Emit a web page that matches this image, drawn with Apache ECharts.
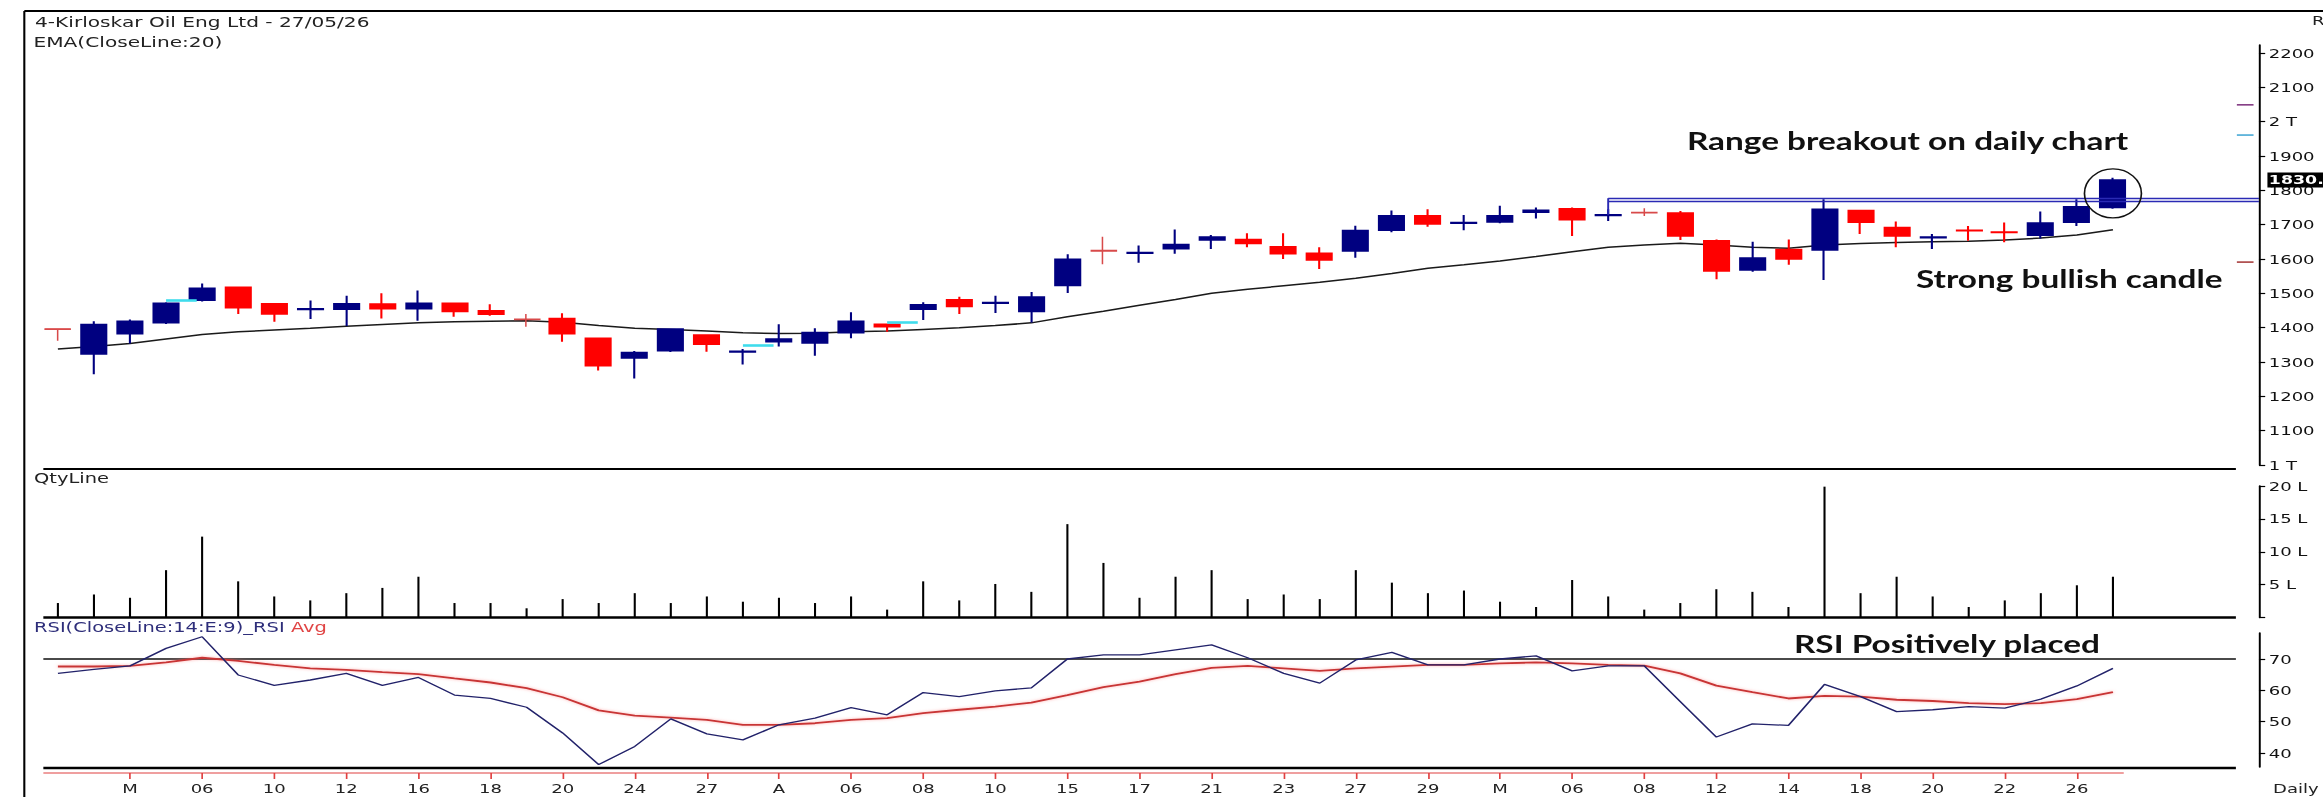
<!DOCTYPE html>
<html>
<head>
<meta charset="utf-8">
<script src="https://cdn.jsdelivr.net/npm/echarts@6/dist/echarts.min.js"></script>
<style>
html,body{margin:0;padding:0;background:#fff;overflow:hidden}
#wrap{width:2323px;height:797px;overflow:hidden;position:relative;background:#fff}
#chart{width:1672px;height:797px;transform:scaleX(1.389354);transform-origin:0 0}
</style>
</head>
<body>
<div id="wrap"><div id="chart"></div></div>
<script>
// ---------- DATA ----------
const dateLabels = ['26','27','M','04','06','09','10','11','12','13','16','17','18','19','20','23','24','25','27','30',
  'A','02','06','07','08','09','10','13','15','16','17','20','21','22','23','24','27','28','29','30',
  'M','05','06','07','08','11','12','13','14','15','18','19','20','21','22','25','26','27'];

const openP  = [1397,1323,1382,1414,1480,1518,1470,1453,1454,1469,1455,1471,1449,1425,1427,1369,1312,1333,1379,1329,
  1359,1355,1385,1410,1454,1481,1471,1447,1523,1625,1617,1630,1655,1657,1636,1617,1623,1684,1726,1704,
  1708,1736,1746,1727,1736,1734,1653,1568,1628,1626,1741,1692,1662,1684,1679,1669,1707,1750];
const highP  = [1397,1419,1424,1474,1529,1519,1471,1479,1493,1500,1508,1472,1468,1440,1442,1370,1332,1397,1380,1338,
  1410,1398,1445,1411,1474,1490,1493,1504,1614,1665,1639,1686,1670,1675,1675,1634,1697,1741,1745,1728,
  1755,1750,1750,1745,1748,1740,1657,1650,1657,1774,1742,1709,1673,1696,1706,1738,1774,1837];
const lowP   = [1362,1264,1354,1411,1476,1440,1417,1425,1405,1427,1420,1432,1435,1403,1359,1275,1252,1329,1330,1293,
  1345,1318,1369,1388,1422,1440,1443,1415,1501,1585,1589,1615,1629,1634,1600,1571,1604,1678,1694,1684,
  1704,1718,1667,1711,1725,1655,1541,1563,1583,1539,1673,1634,1629,1653,1649,1660,1696,1746];
const closeP = [1395,1409,1419,1471,1515,1458,1440,1455,1470,1455,1471,1447,1439,1423,1382,1289,1328,1396,1352,1331,
  1367,1386,1419,1403,1467,1462,1473,1489,1599,1623,1619,1642,1664,1645,1615,1597,1683,1726,1702,1706,
  1726,1742,1714,1729,1734,1667,1565,1603,1600,1745,1707,1667,1664,1682,1677,1705,1752,1830];

const ema20 = [1338,1345,1354,1367,1380,1388,1393,1398,1404,1409,1414,1417,1419,1420,1416,1406,1398,1395,1390,1385,
  1383,1384,1388,1390,1395,1400,1406,1414,1432,1448,1465,1482,1500,1512,1522,1532,1544,1558,1573,1583,
  1594,1607,1621,1634,1641,1646,1641,1634,1631,1641,1645,1648,1650,1652,1655,1661,1670,1685];

const volumeLakh = [2.2,3.5,3.0,7.2,12.3,5.5,3.2,2.6,3.7,4.5,6.2,2.2,2.2,1.4,2.8,2.2,3.7,2.2,3.2,2.4,
  3.0,2.2,3.2,1.2,5.5,2.6,5.1,3.9,14.2,8.3,3.0,6.2,7.2,2.8,3.5,2.8,7.2,5.3,3.7,4.1,
  2.4,1.6,5.7,3.2,1.2,2.2,4.3,3.9,1.6,19.9,3.7,6.2,3.2,1.6,2.6,3.7,4.9,6.2];

const rsi14 = [65.4,66.7,67.8,73.4,77.1,64.9,61.6,63.3,65.4,61.6,64.1,58.5,57.4,54.6,46.4,36.3,42.1,50.9,46.1,44.2,
  49.0,51.1,54.5,52.2,59.3,58.0,59.8,60.8,70.0,71.3,71.3,72.9,74.5,70.4,65.4,62.3,69.7,72.1,68.1,68.1,
  70.0,71.0,66.2,67.8,67.8,56.4,45.1,49.3,48.8,61.9,58.0,53.2,53.8,54.8,54.3,57.2,61.4,67.0];
const rsiAvg = [67.6,67.6,67.8,68.9,70.4,69.4,68.1,67.0,66.5,65.8,65.2,63.8,62.5,60.7,57.8,53.6,51.9,51.3,50.6,49.0,
  49.0,49.5,50.6,51.1,52.7,53.8,54.8,56.1,58.5,61.0,62.8,65.2,67.2,67.8,67.0,66.2,67.0,67.6,68.1,68.1,
  68.6,68.9,68.6,68.1,67.9,65.4,61.5,59.4,57.4,58.2,58.0,57.0,56.6,55.9,55.6,55.9,57.2,59.4];

const priceTicks = [1000,1100,1200,1300,1400,1500,1600,1700,1800,1900,2000,2100,2200];
const volTicks = [0,5,10,15,20];
const volLabelTicks = [5,10,15,20];
const rsiTicks = [40,50,60,70];
const rsiLevel = 70;
const xTickIdx = [2,4,6,8,10,12,14,16,18,20,22,24,26,28,30,32,34,36,38,40,42,44,46,48,50,52,54,56];

const breakoutStart = 43;
const breakoutLevels = [1777, 1767];
const breakoutTickLow = 1729;
const gapMarks = [[3, 1479], [19, 1348], [23, 1417]];
const lastPrice = 1830;
const circleCenterPrice = 1791;
const levelDashes = [[2049, '#7b2d7b'], [1961, '#3ba3d3'], [1591, '#a33333']];
const thinRedDoji = [0, 13, 29, 44];

// ---------- LAYOUT ----------
const FONT = 'DejaVu Sans';
const gridLeft = 28.7, gridWidth = 1597.2;
const xMin = -0.5, xMax = 61.05;

const chart = echarts.init(document.getElementById('chart'), null, {renderer: 'svg'});

function yAx(gridIndex, min, max, ticks, labelTicks, fmt) {
  return {
    type: 'value', gridIndex: gridIndex, position: 'right', min: min, max: max,
    axisLine: {show: true, onZero: false, lineStyle: {color: '#000', width: 1.4}},
    axisTick: {show: true, inside: false, length: 4.5, customValues: ticks, lineStyle: {color: '#000', width: 1.2}},
    axisLabel: {show: true, customValues: labelTicks, formatter: fmt, margin: 7, fontSize: 13, color: '#111', fontFamily: FONT},
    splitLine: {show: false}
  };
}
function xHidden(gridIndex) {
  return {type: 'value', gridIndex: gridIndex, min: xMin, max: xMax, show: false, splitLine: {show: false}};
}

const candleData = openP.map((o, i) => {
  const item = {value: [i, o, closeP[i], lowP[i], highP[i]]};
  if (thinRedDoji.indexOf(i) >= 0) item.itemStyle = {borderColor0: '#d84a4a', borderWidth: 1.1};
  return item;
});
const emaData = ema20.map((v, i) => [i, v]);
const volData = volumeLakh.map((v, i) => [i, v]);
const rsiData = rsi14.map((v, i) => [i, v]);
const rsiAvgData = rsiAvg.map((v, i) => [i, v]);

const markLines = [];
breakoutLevels.forEach(lv => {
  markLines.push([{coord: [breakoutStart, lv]}, {coord: [xMax, lv]}]);
});
markLines.push([{coord: [breakoutStart, breakoutLevels[0]]}, {coord: [breakoutStart, breakoutTickLow]}]);
gapMarks.forEach(g => {
  markLines.push([{coord: [g[0], g[1]], lineStyle: {color: '#3fdcec', width: 2.6}},
                  {coord: [g[0] + 0.85, g[1]]}]);
});

const option = {
  animation: false,
  backgroundColor: '#fff',
  grid: [
    {left: gridLeft, width: gridWidth, top: 45, height: 420},
    {left: gridLeft, width: gridWidth, top: 486, height: 131.5},
    {left: gridLeft, width: gridWidth, top: 633, height: 134}
  ],
  xAxis: [
    xHidden(0),
    xHidden(1),
    {
      type: 'value', gridIndex: 2, min: xMin, max: xMax, position: 'bottom', offset: 6,
      axisLine: {show: false},
      axisTick: {show: true, inside: false, length: 6, customValues: xTickIdx, lineStyle: {color: '#e04040', width: 1.2}},
      axisLabel: {show: true, customValues: xTickIdx, formatter: v => dateLabels[Math.round(v)] || '', margin: 9,
                  fontSize: 13, color: '#222', fontFamily: FONT},
      splitLine: {show: false}
    }
  ],
  yAxis: [
    yAx(0, 1000, 2223.3, priceTicks, priceTicks, v => v === 2000 ? '2 T' : (v === 1000 ? '1 T' : String(v))),
    yAx(1, 0, 20, volTicks, volLabelTicks, v => v === 0 ? '' : v + ' L'),
    yAx(2, 35.53, 78.3, rsiTicks, rsiTicks, v => String(v))
  ],
  series: [
    {
      type: 'candlestick', xAxisIndex: 0, yAxisIndex: 0, data: candleData, barWidth: 18.5,
      itemStyle: {color: '#000080', color0: '#ff0000', borderColor: '#000080', borderColor0: '#ff0000', borderWidth: 1.5},
      markLine: {silent: true, symbol: ['none', 'none'], label: {show: false}, animation: false,
                 lineStyle: {color: '#2a2ab4', width: 1.4, type: 'solid'}, data: markLines},
      z: 3
    },
    {
      type: 'line', xAxisIndex: 0, yAxisIndex: 0, data: emaData, symbol: 'none',
      lineStyle: {color: '#1a1a1a', width: 1.5}, z: 2
    },
    {
      type: 'bar', xAxisIndex: 1, yAxisIndex: 1, data: volData, barWidth: 1.5,
      itemStyle: {color: '#000'}
    },
    {
      type: 'line', xAxisIndex: 2, yAxisIndex: 2, data: rsiAvgData, symbol: 'none',
      lineStyle: {color: '#c83434', width: 1.8, shadowColor: 'rgba(255,120,120,0.6)', shadowBlur: 3}, z: 2
    },
    {
      type: 'line', xAxisIndex: 2, yAxisIndex: 2, data: rsiData, symbol: 'none',
      lineStyle: {color: '#22226a', width: 1.3}, z: 3
    }
  ]
};
chart.setOption(option);

// ---------- ANNOTATIONS / FRAME ----------
const px = (gi, x, y) => chart.convertToPixel({gridIndex: gi}, [x, y]);
function ln(x1, y1, x2, y2, color, w, z) {
  return {type: 'line', silent: true, z: z || 10, shape: {x1: x1, y1: y1, x2: x2, y2: y2}, style: {stroke: color, lineWidth: w}};
}
function tx(x, y, t, font, fill, extra) {
  return {type: 'text', silent: true, z: 20, x: x, y: y,
          style: Object.assign({text: t, font: font, fill: fill, verticalAlign: 'middle', align: 'left'}, extra || {})};
}
const panelL = 31.2, panelR = 1609.3;
const g = [];
g.push(ln(17.5, 11, 1672, 11, '#000', 2));
g.push(ln(17.5, 11, 17.5, 797, '#000', 1.5));
g.push(ln(panelL, 469, panelR, 469, '#000', 2));
g.push(ln(panelL, 617.5, panelR, 617.5, '#000', 2.5));
g.push(ln(panelL, 768, panelR, 768, '#000', 2.5));
const y70 = px(2, 0, rsiLevel)[1];
g.push(ln(panelL, y70, panelR, y70, '#4a4a4a', 2, 1));
g.push(ln(panelL, 773, px(2, 57.3, 50)[0], 773, '#e04040', 1.2));

// level dashes next to the price axis
levelDashes.forEach(d => {
  const yy = px(0, 0, d[0])[1];
  g.push(ln(1610, yy, 1622, yy, d[1], 1.5));
});

// circle around the last candle
const cc = px(0, openP.length - 1, circleCenterPrice);
g.push({type: 'ellipse', silent: true, z: 15, shape: {cx: cc[0], cy: cc[1], rx: 20.5, ry: 24.5},
        style: {fill: 'none', stroke: '#111', lineWidth: 1.2}});

// last price box
const lp = px(0, 0, lastPrice)[1];
g.push({type: 'rect', silent: true, z: 30, shape: {x: 1632, y: lp - 7.5, width: 40, height: 15}, style: {fill: '#000'}});
g.push(Object.assign(tx(1633, lp, lastPrice + '.', 'bold 12.5px ' + FONT, '#fff'), {z: 31}));

// texts
g.push(tx(25.2, 22, '4-Kirloskar Oil Eng Ltd - 27/05/26', '14.5px ' + FONT, '#222'));
g.push(tx(24.1, 42, 'EMA(CloseLine:20)', '14.5px ' + FONT, '#222'));
g.push(tx(24.5, 478, 'QtyLine', '14px ' + FONT, '#222'));
g.push({type: 'text', silent: true, z: 20, x: 24.5, y: 627,
        style: {text: '{a|RSI(CloseLine:14:E:9)_RSI} {b|Avg}', verticalAlign: 'middle', align: 'left', font: '14px ' + FONT,
                rich: {a: {fill: '#2e2e7a', font: '14px ' + FONT}, b: {fill: '#e04545', font: '14px ' + FONT}}}});
g.push(tx(1214.2, 140, 'Range breakout on daily chart', 'bold 24px Lato', '#111'));
g.push(tx(1379, 278, 'Strong bullish candle', 'bold 24px Lato', '#111'));
g.push(tx(1291.2, 643, 'RSI Positively placed', 'bold 24px Lato', '#111'));
g.push(tx(1636, 788, 'Daily', '13px ' + FONT, '#222'));
g.push(tx(1664, 20, 'R', '13px ' + FONT, '#222'));

chart.setOption({graphic: g});
</script>
</body>
</html>
